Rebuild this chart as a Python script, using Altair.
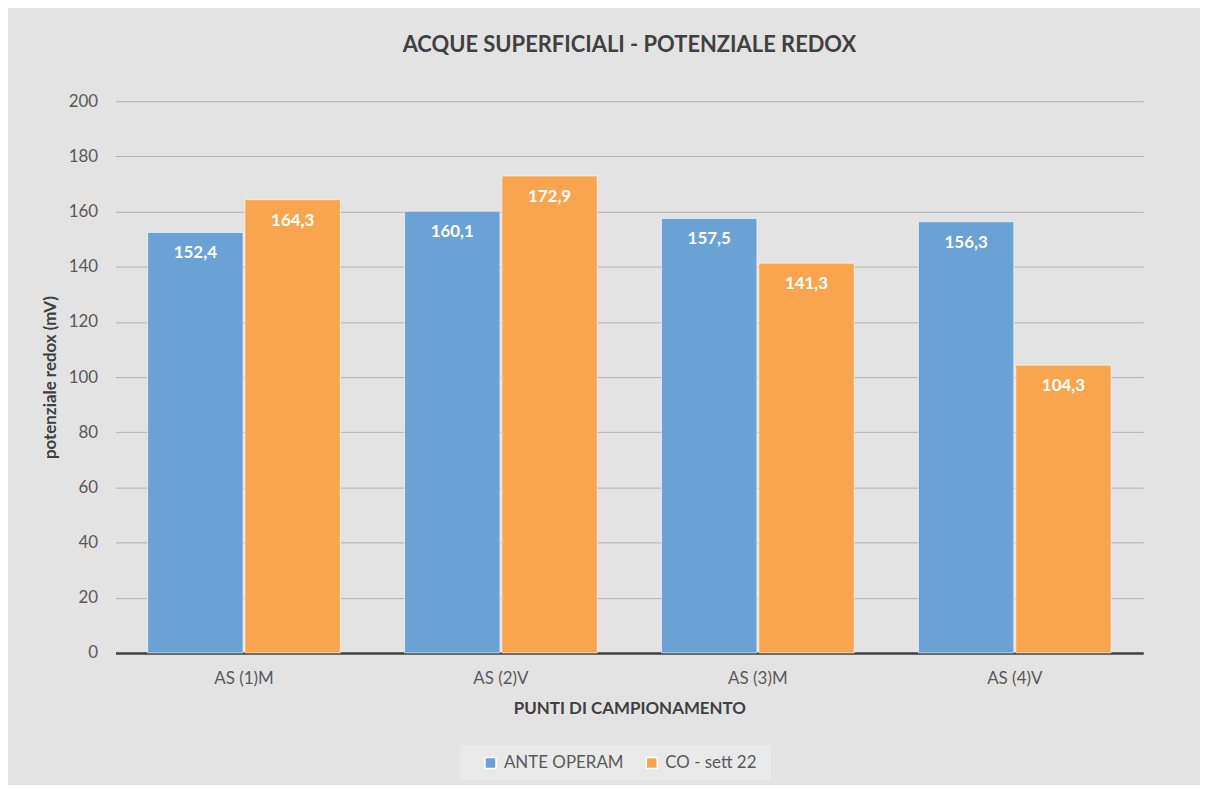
import altair as alt
import pandas as pd

categories = ["AS (1)M", "AS (2)V", "AS (3)M", "AS (4)V"]
series_names = ["ANTE OPERAM", "CO - sett  22"]
ante_operam = [152.4, 160.1, 157.5, 156.3]
co_sett22 = [164.3, 172.9, 141.3, 104.3]
y_ticks = [0, 20, 40, 60, 80, 100, 120, 140, 160, 180, 200]
colors = ["#6aa2d6", "#f9a54f"]

rows = []
for i, c in enumerate(categories):
    rows.append({"punto": c, "serie": series_names[0], "valore": ante_operam[i]})
    rows.append({"punto": c, "serie": series_names[1], "valore": co_sett22[i]})
df = pd.DataFrame(rows)

FONT = "Lato"

base = alt.Chart(df).encode(
    x=alt.X("punto:N", sort=categories,
            scale=alt.Scale(paddingInner=0.25, paddingOuter=0.125),
            axis=alt.Axis(title="PUNTI DI CAMPIONAMENTO", labelAngle=0,
                          labelFontSize=17, labelColor="#595959", labelFont=FONT,
                          labelPadding=18, ticks=False,
                          domainColor="#404040", domainWidth=2.5,
                          titleFont=FONT, titleFontSize=17, titleFontWeight="bold",
                          titleColor="#404040", titlePadding=14)),
    xOffset=alt.XOffset("serie:N", sort=series_names,
                        scale=alt.Scale(paddingInner=0.02)),
    y=alt.Y("valore:Q", scale=alt.Scale(domain=[0, 200], nice=False),
            axis=alt.Axis(title="potenziale redox (mV)", values=y_ticks,
                          labelFontSize=17, labelColor="#595959", labelFont=FONT,
                          labelPadding=18, ticks=False, domain=False,
                          gridColor="#b0b0b0", gridWidth=1,
                          titleFont=FONT, titleFontSize=17, titleFontWeight="bold",
                          titleColor="#404040", titlePadding=9)),
)

bars = base.mark_bar(stroke="#ffffff", strokeWidth=1, strokeOpacity=0.6).encode(
    color=alt.Color("serie:N", sort=series_names,
                    scale=alt.Scale(domain=series_names, range=colors),
                    legend=alt.Legend(title=None, orient="none", direction="horizontal",
                                      legendX=346, legendY=647,
                                      symbolType="square", symbolSize=121,
                                      symbolOffset=13,
                                      labelFont=FONT, labelFontSize=17,
                                      labelColor="#595959",
                                      fillColor="#e9e9e9", padding=9,
                                      columnPadding=6, labelOffset=5))
)

labels = base.transform_calculate(
    etichetta="replace(format(datum.valore, '.1f'), '.', ',')"
).mark_text(color="white", fontWeight="bold", fontSize=17, font=FONT,
            baseline="middle", dy=21).encode(text="etichetta:N")

chart = alt.layer(bars, labels).properties(
    width=1032, height=554,
    title=alt.Title("ACQUE SUPERFICIALI - POTENZIALE REDOX", font=FONT, fontSize=22,
                    fontWeight="bold", color="#404040", anchor="middle",
                    frame="group", offset=35),
    background="#e3e3e3",
    autosize=alt.AutoSizeParams(type="none"),
    padding={"left": 108, "top": 92, "right": 57, "bottom": 131},
).configure_view(stroke=None)

chart.save("out.html", embed_options={"renderer": "svg", "actions": False})
